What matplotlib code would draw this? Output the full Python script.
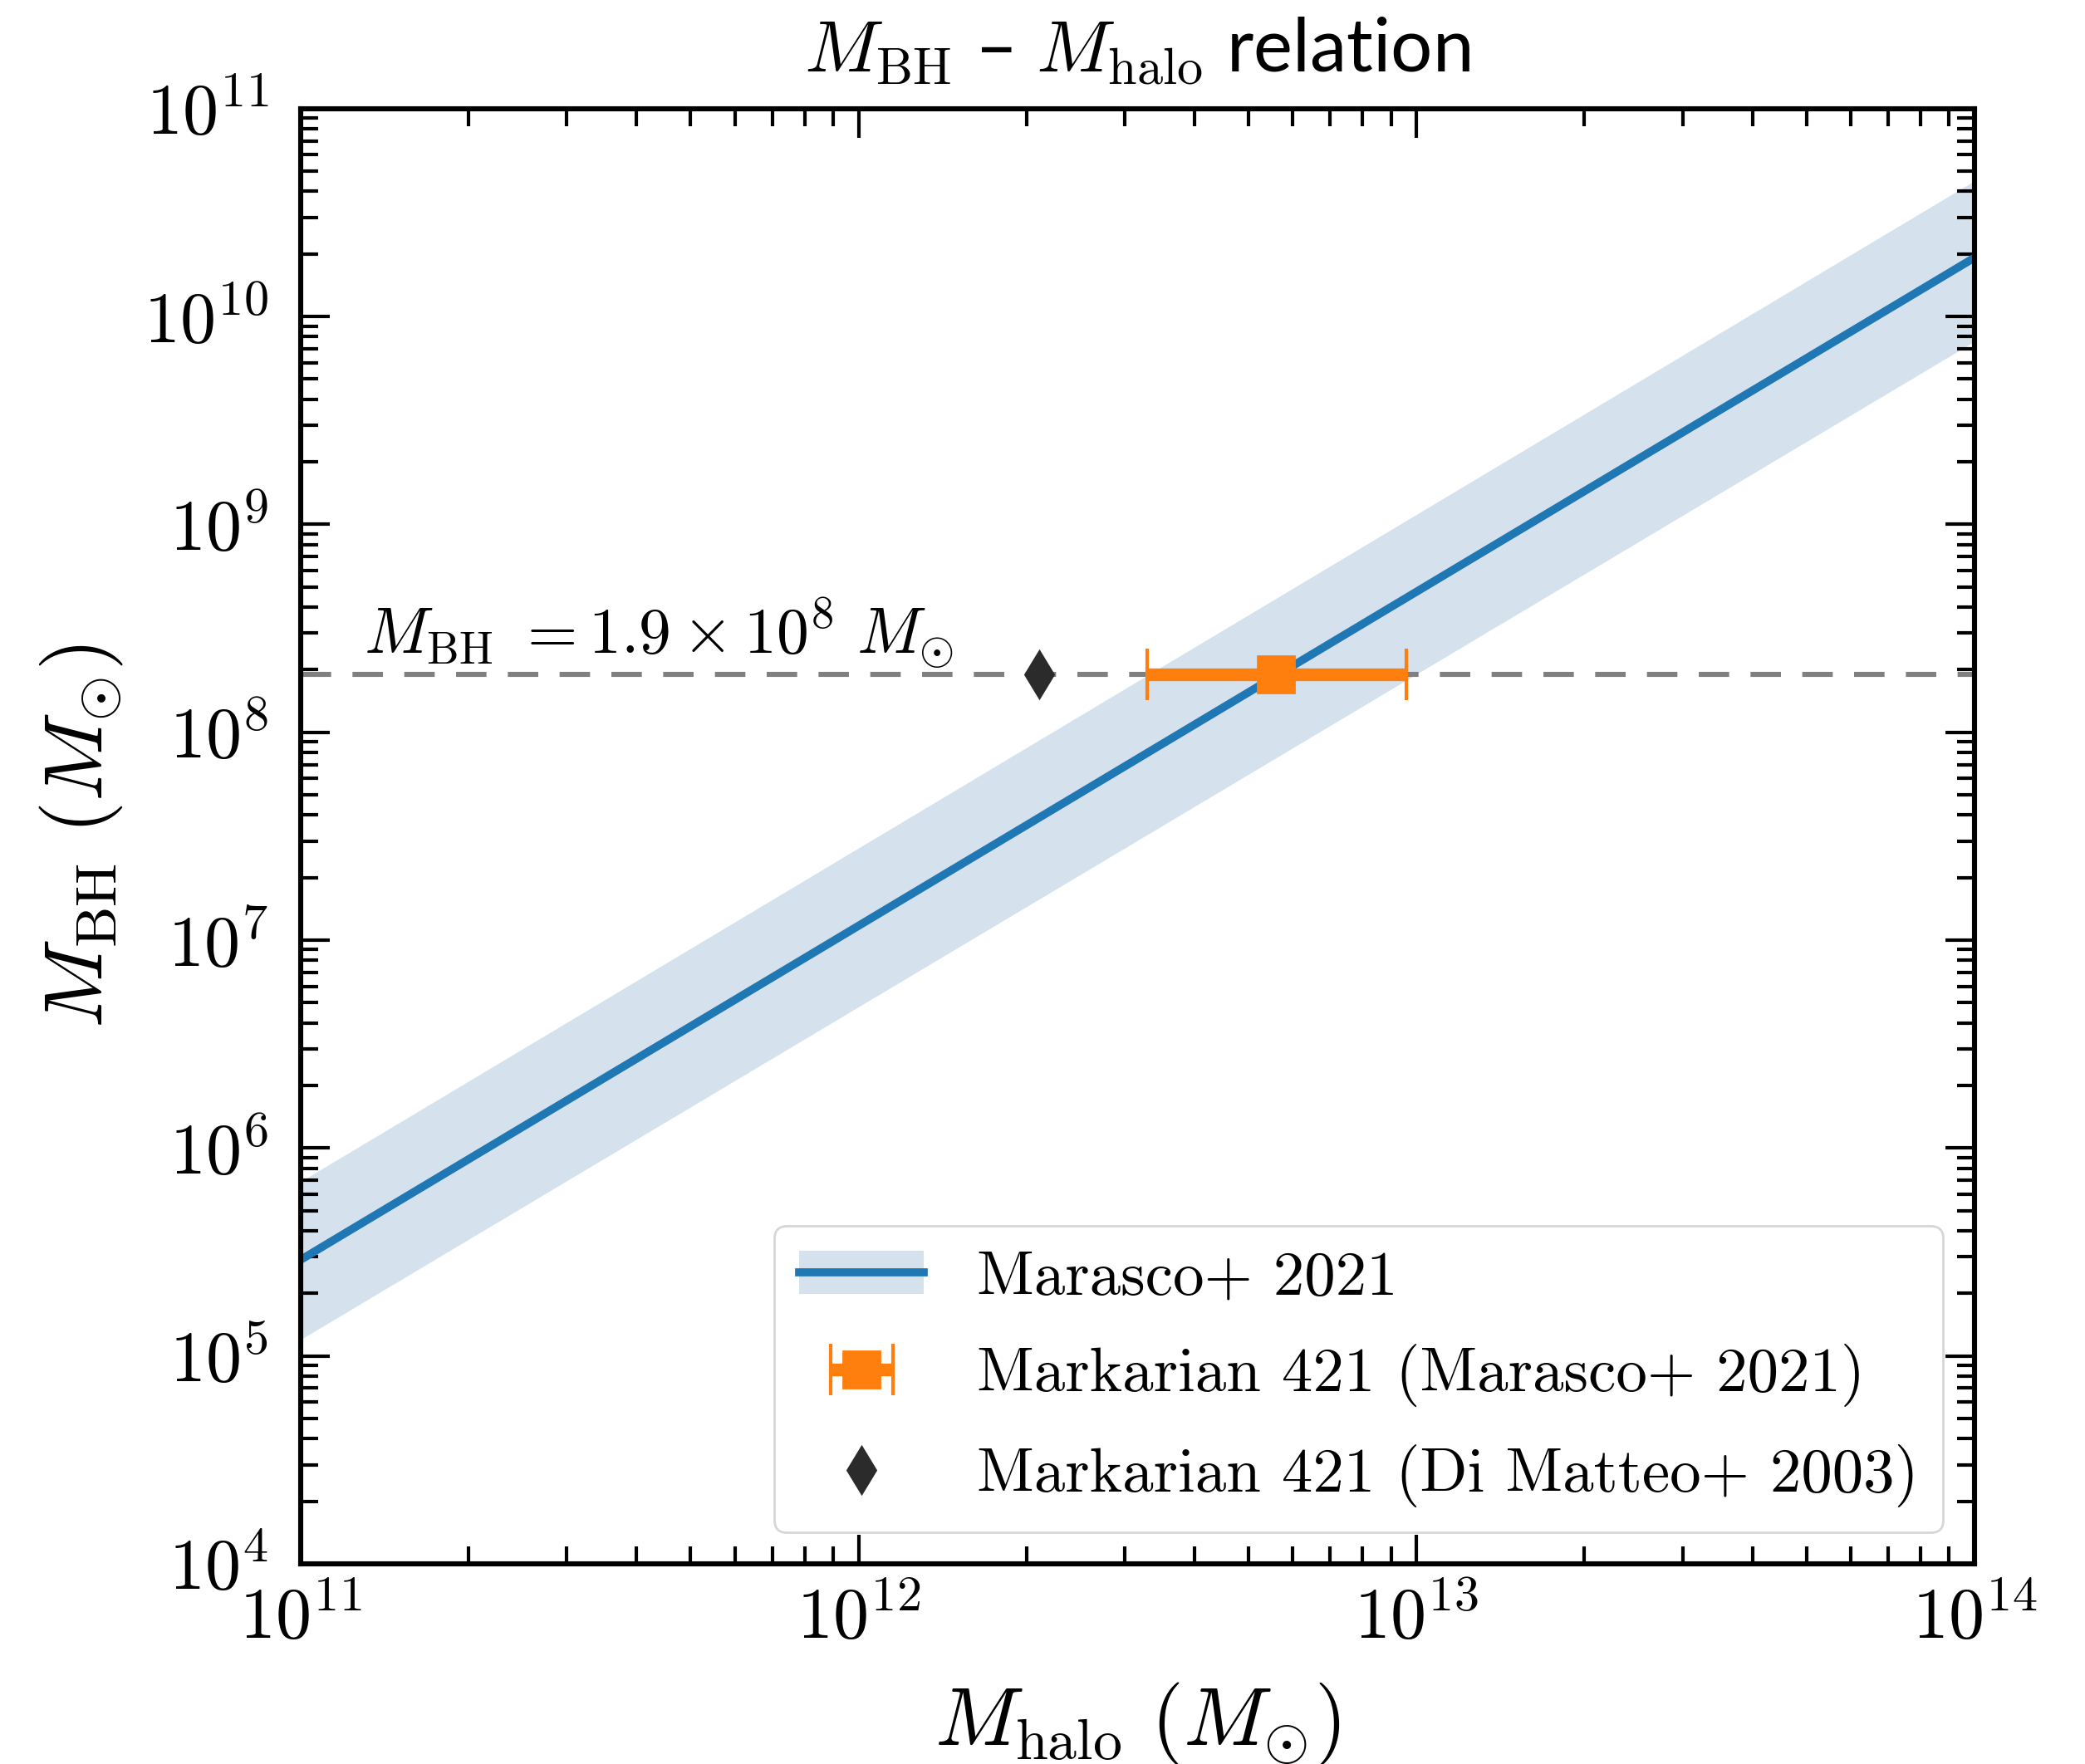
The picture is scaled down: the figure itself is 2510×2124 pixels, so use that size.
import numpy as np
import matplotlib
matplotlib.use("Agg")
import matplotlib.pyplot as plt
from matplotlib.ticker import LogLocator, FuncFormatter, NullFormatter

plt.rcParams["font.family"] = "serif"
plt.rcParams["font.serif"] = ["cmr10"]
plt.rcParams["mathtext.fontset"] = "cm"
plt.rcParams["axes.formatter.use_mathtext"] = True

# Marasco+ 2021 relation (end points)
relation_mhalo = [1e11, 1e14]
relation_mbh = [2.9e5, 1.92e10]
relation_lo = [1.2e5, 7.6e9]
relation_hi = [6.9e5, 4.5e10]

# Markarian 421 halo mass estimate (Marasco+ 2021)
mrk_mhalo = [5.6e12]
mrk_mhalo_lo = [3.29e12]
mrk_mhalo_hi = [9.6e12]
mrk_mbh = [1.9e8]

# Markarian 421 (Di Matteo+ 2003)
dm_mhalo = [2.11e12]
dm_mbh = [1.9e8]

MBH_VALUE = 1.9e8

fig = plt.figure(figsize=(12.55, 10.62), dpi=200)
ax = fig.add_axes([0.1442, 0.1135, 0.8028, 0.8249])

band = ax.fill_between(relation_mhalo, relation_lo, relation_hi,
                       color="#d5e1ed", lw=0)
line, = ax.plot(relation_mhalo, relation_mbh, color="#1f77b4", lw=3.5)

ax.axhline(MBH_VALUE, color="0.5", lw=2.2, ls=(0, (6, 4.2)), zorder=1)

xerr = [[mrk_mhalo[0] - mrk_mhalo_lo[0]], [mrk_mhalo_hi[0] - mrk_mhalo[0]]]
eb = ax.errorbar(mrk_mhalo, mrk_mbh, xerr=xerr, fmt="s", color="#ff7f0e",
                 ms=16, elinewidth=5.5, capsize=11, capthick=1.5, zorder=4)

dm, = ax.plot(dm_mhalo, dm_mbh, "d", color="0.17", ms=14.5, zorder=4)

ax.text(1.30e11, 2.37e8, r"$M_{\rm BH}\ = 1.9\times10^{8}\ M_{\odot}$",
        fontsize=28, va="baseline", ha="left")

ax.set_xscale("log")
ax.set_yscale("log")
ax.set_xlim(1e11, 1e14)
ax.set_ylim(1e4, 1e11)

fmt = FuncFormatter(lambda v, p: r"$10^{%d}$" % int(round(np.log10(v))))
for axis in (ax.xaxis, ax.yaxis):
    axis.set_major_locator(LogLocator(base=10, numticks=20))
    axis.set_minor_locator(LogLocator(base=10, subs=np.arange(2, 10), numticks=100))
    axis.set_major_formatter(fmt)
    axis.set_minor_formatter(NullFormatter())

ax.tick_params(which="both", direction="in", top=True, right=True, width=1.5)
ax.tick_params(which="major", length=12.5, labelsize=31)
ax.tick_params(which="minor", length=7.5)
ax.tick_params(axis="x", pad=10)
ax.tick_params(axis="y", pad=14)
for s in ax.spines.values():
    s.set_linewidth(2.2)

ax.set_xlabel(r"$M_{\rm halo}\ (M_{\odot})$", fontsize=36)
ax.set_ylabel(r"$M_{\rm BH}\ (M_{\odot})$", fontsize=36)
ax.xaxis.set_label_coords(0.5, -0.08)
ax.yaxis.set_label_coords(-0.105, 0.5)

ax.set_title(r"$M_{\rm BH}$ – $M_{\rm halo}$ relation", fontsize=32,
             family="Lato", pad=16)

ax.legend([(band, line), eb, dm],
          ["Marasco+ 2021", "Markarian 421 (Marasco+ 2021)",
           "Markarian 421 (Di Matteo+ 2003)"],
          loc="lower right", fontsize=27, borderaxespad=0.5,
          handletextpad=0.85, labelspacing=0.6, numpoints=1)

fig.savefig("out.png", dpi=200)
